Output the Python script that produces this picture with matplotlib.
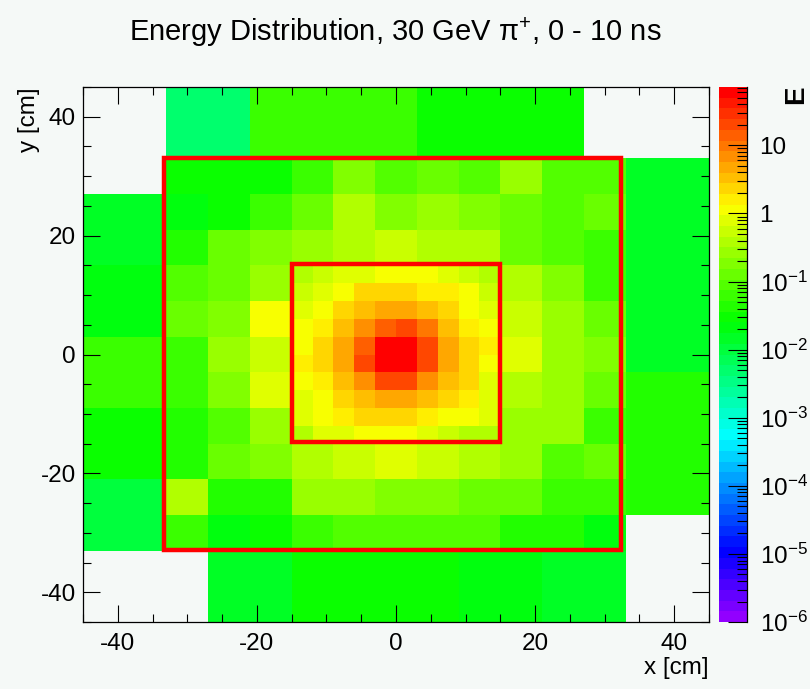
import numpy as np
import matplotlib
matplotlib.use('Agg')
import matplotlib.pyplot as plt
from matplotlib.colors import ListedColormap, LogNorm
from matplotlib.patches import Rectangle
from matplotlib.ticker import MultipleLocator
from matplotlib import font_manager
import colorsys


def pick_font():
    for name in ['Liberation Sans Narrow', 'Liberation Sans', 'DejaVu Sans']:
        try:
            font_manager.findfont(font_manager.FontProperties(family=name),
                                  fallback_to_default=False)
            return name
        except Exception:
            pass
    return 'DejaVu Sans'


FONT = pick_font()
NARROW = 'Narrow' in FONT
plt.rcParams['font.family'] = [FONT, 'DejaVu Sans']
plt.rcParams['mathtext.fontset'] = 'custom'
plt.rcParams['mathtext.rm'] = FONT
plt.rcParams['mathtext.it'] = FONT
plt.rcParams['mathtext.default'] = 'regular'
plt.rcParams['axes.unicode_minus'] = False

# ---------------- data ----------------
title = 'Energy Distribution, 30 GeV π$^{+}$, 0 - 10 ns'
x_label = 'x [cm]'
y_label = 'y [cm]'
z_label = 'E'
z_min, z_max = 1e-6, 72.0

# inner 3 cm cells, rows listed from top (y=15) to bottom (y=-15)
inner_x = [-15, -12, -9, -6, -3, 0, 3, 6, 9, 12, 15]
inner_y = [15, 12, 9, 6, 3, 0, -3, -6, -9, -12, -15]
inner_vals = [
    [0.37, 0.53, 0.76, 0.76, 1.1, 1.1, 1.1, 0.76, 0.53, 0.37],
    [0.53, 0.76, 1.1, 2.3, 2.3, 2.3, 1.6, 1.6, 1.1, 0.53],
    [0.76, 1.1, 2.3, 3.2, 4.6, 4.6, 3.2, 2.3, 1.1, 0.76],
    [1.1, 1.6, 3.2, 6.7, 14, 20, 9.6, 3.2, 1.6, 1.1],
    [1.1, 2.3, 4.6, 14, 62, 68, 20, 4.6, 2.3, 1.6],
    [1.6, 2.3, 4.6, 20, 66, 60, 20, 4.6, 2.3, 1.1],
    [1.1, 1.6, 3.2, 6.7, 20, 20, 6.7, 3.2, 2.3, 0.76],
    [0.76, 1.1, 2.3, 3.2, 4.6, 4.6, 3.2, 2.3, 1.6, 0.76],
    [0.76, 1.1, 1.6, 2.3, 2.3, 2.3, 1.6, 1.1, 1.1, 0.76],
    [0.37, 0.76, 0.76, 1.1, 1.1, 1.1, 0.76, 0.53, 0.37, 0.37],
]

# middle 6 cm cells, rows from top (y=33) to bottom (y=-33); nan = inner area
nan = np.nan
mid_x = [-33, -27, -21, -15, -9, -3, 3, 9, 15, 21, 27, 33]
mid_y = [33, 27, 21, 15, 9, 3, -3, -9, -15, -21, -27, -33]
mid_vals = [
    [0.030, 0.030, 0.030, 0.060, 0.18, 0.087, 0.125, 0.087, 0.26, 0.087, 0.087],
    [0.021, 0.030, 0.060, 0.125, 0.37, 0.18, 0.26, 0.18, 0.125, 0.087, 0.125],
    [0.042, 0.125, 0.18, 0.26, 0.37, 0.53, 0.37, 0.37, 0.125, 0.087, 0.060],
    [0.087, 0.125, 0.26, nan, nan, nan, nan, nan, 0.37, 0.18, 0.060],
    [0.125, 0.18, 1.1, nan, nan, nan, nan, nan, 0.53, 0.26, 0.125],
    [0.060, 0.26, 0.53, nan, nan, nan, nan, nan, 0.76, 0.26, 0.18],
    [0.060, 0.18, 0.76, nan, nan, nan, nan, nan, 0.37, 0.26, 0.125],
    [0.042, 0.087, 0.26, nan, nan, nan, nan, nan, 0.26, 0.26, 0.060],
    [0.042, 0.125, 0.18, 0.37, 0.53, 0.76, 0.53, 0.37, 0.26, 0.087, 0.125],
    [0.37, 0.042, 0.042, 0.26, 0.26, 0.18, 0.18, 0.125, 0.125, 0.060, 0.060],
    [0.060, 0.021, 0.030, 0.060, 0.087, 0.087, 0.087, 0.087, 0.042, 0.042, 0.021],
]

# outer 12 cm cells (pinwheel)
top_x = [-33, -21, -9, 3, 15, 27]
top_y = [33, 45]
top_vals = [0.0049, 0.060, 0.060, 0.030, 0.030]

bottom_x = [-27, -15, -3, 9, 21, 33]
bottom_y = [-45, -33]
bottom_vals = [0.014, 0.030, 0.030, 0.021, 0.014]

left_x = [-45, -33]
left_y = [-33, -21, -9, 3, 15, 27]          # bottom to top
left_vals = [0.010, 0.030, 0.060, 0.021, 0.014]

right_x = [33, 45]
right_y = [-27, -15, -3, 9, 21, 33]         # bottom to top
right_vals = [0.042, 0.042, 0.014, 0.014, 0.014]

# red frames (x0, x1, y0, y1)
outer_box = (-33.4, 32.3, -32.9, 33.0)
inner_box = (-15.0, 15.0, -14.8, 15.2)

cbar_ticks = [1e-6, 1e-5, 1e-4, 1e-3, 1e-2, 1e-1, 1, 10]
cbar_labels = ['10$^{-6}$', '10$^{-5}$', '10$^{-4}$', '10$^{-3}$',
               '10$^{-2}$', '10$^{-1}$', '1', '10']

# ---------------- style ----------------
BG = '#f5f9f7'
W, H = 810, 689
K = 1.2 if NARROW else 1.0   # narrow face can be set larger for same width
TITLE_FS = 21 * K
TICK_FS = 17.5 * K
LABEL_FS = 17.5 * K


def fx(px):
    return px / W


def fy(py):
    return 1 - py / H


# ROOT "pretty palette": 50 colours, HLS hue 280 -> 0
colors = []
for i in range(50):
    hue = 280 - (i + 1) * (280 / 50)
    colors.append(colorsys.hls_to_rgb(hue / 360.0, 0.5, 1.0))
cmap = ListedColormap(colors)
cmap.set_over(colors[-1])
cmap.set_bad((0, 0, 0, 0))
norm = LogNorm(vmin=z_min, vmax=z_max)

fig = plt.figure(figsize=(W / 100, H / 100), dpi=100, facecolor=BG)
ax = fig.add_axes([fx(83), fy(622), fx(709) - fx(83), fy(87) - fy(622)])
ax.set_facecolor(BG)

mesh_kw = dict(cmap=cmap, norm=norm, shading='flat', edgecolors='none',
               antialiased=False, linewidth=0)

ax.pcolormesh(inner_x, inner_y, np.ma.masked_invalid(np.array(inner_vals)), **mesh_kw)
ax.pcolormesh(mid_x, mid_y, np.ma.masked_invalid(np.array(mid_vals)), **mesh_kw)
ax.pcolormesh(top_x, top_y, np.array([top_vals]), **mesh_kw)
ax.pcolormesh(bottom_x, bottom_y, np.array([bottom_vals]), **mesh_kw)
ax.pcolormesh(left_x, left_y, np.array(left_vals)[:, None], **mesh_kw)
mappable = ax.pcolormesh(right_x, right_y, np.array(right_vals)[:, None], **mesh_kw)

for (x0, x1, y0, y1) in (outer_box, inner_box):
    ax.add_patch(Rectangle((x0, y0), x1 - x0, y1 - y0, fill=False,
                           edgecolor='#ff0000', linewidth=3.2, zorder=5))

ax.set_xlim(-45, 45)
ax.set_ylim(-45, 45)
ax.set_xticks([-40, -20, 0, 20, 40])
ax.set_yticks([-40, -20, 0, 20, 40])
ax.xaxis.set_minor_locator(MultipleLocator(5))
ax.yaxis.set_minor_locator(MultipleLocator(5))
ax.tick_params(which='both', direction='in', top=True, right=True,
               width=0.8, colors='black', labelsize=TICK_FS)
ax.tick_params(which='major', length=12.5)
ax.tick_params(which='minor', length=6)
ax.tick_params(axis='x', pad=8)
ax.tick_params(axis='y', pad=5)
for s in ax.spines.values():
    s.set_linewidth(0.9)
    s.set_zorder(6)

# colour bar
cax = fig.add_axes([fx(719), fy(622), fx(747) - fx(719), fy(87) - fy(622)])
cb = fig.colorbar(mappable, cax=cax)
cb.outline.set_visible(False)
cb.set_ticks(cbar_ticks)
cb.set_ticklabels(cbar_labels)
cax.tick_params(which='both', direction='in', left=False, right=True,
                width=0.8, labelsize=TICK_FS, pad=9)
cax.tick_params(which='major', length=14)
cax.tick_params(which='minor', length=7)
cax.plot([1, 1], [0, 1], transform=cax.transAxes, color='black', lw=0.9,
         clip_on=False)

# texts
fig.text(fx(395), fy(32), title, ha='center', va='center', fontsize=TITLE_FS)
fig.text(fx(709), fy(657), x_label, ha='right', va='top', fontsize=LABEL_FS)
fig.text(fx(18), fy(87), y_label, ha='left', va='top', rotation=90,
         fontsize=LABEL_FS)
fig.text(fx(796), fy(85), z_label, ha='center', va='top', rotation=90,
         fontsize=20, fontweight='bold')

fig.savefig('out.png', dpi=100, facecolor=BG)
